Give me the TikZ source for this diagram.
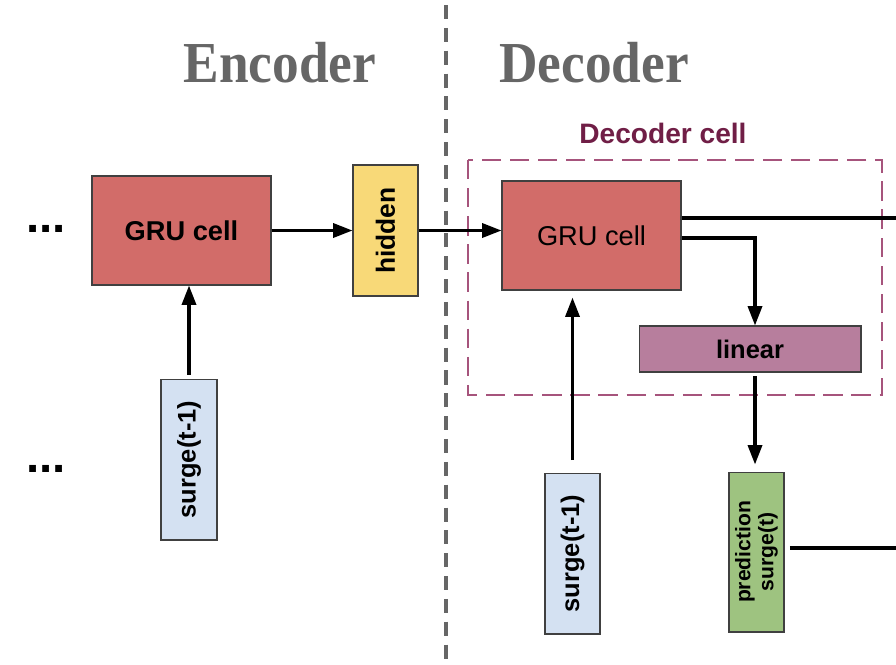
\documentclass[tikz,border=0pt]{standalone}
\usepackage{fontspec}
\setmainfont{Liberation Sans}
\newfontfamily\titlefont[FakeStretch=0.92]{Liberation Serif}
\usetikzlibrary{arrows.meta}

\definecolor{grured}{RGB}{210,108,105}
\definecolor{hiddenyellow}{RGB}{248,217,120}
\definecolor{surgeblue}{RGB}{212,225,242}
\definecolor{linearpurple}{RGB}{183,126,157}
\definecolor{predgreen}{RGB}{158,195,128}
\definecolor{cellmagenta}{RGB}{166,84,124}
\definecolor{celllabel}{RGB}{112,30,70}
\definecolor{titlegray}{RGB}{102,102,102}

\begin{document}
\begin{tikzpicture}[x=0.02cm,y=-0.02cm,
box/.style={draw=black!75,line width=0.6pt,inner sep=0pt,
  font=\bfseries\fontsize{14.5}{16}\selectfont},
vbox/.style={box,rotate=90,minimum width=3.22cm,minimum height=1.12cm},
link/.style={line width=1.8pt,-{Triangle[length=11pt,width=8pt]}},
plain/.style={line width=1.8pt},
title/.style={anchor=base,text=titlegray,font=\titlefont\bfseries\fontsize{33}{35}\selectfont},
dots/.style={anchor=base,font=\bfseries\fontsize{27}{27}\selectfont},
decobox/.style={draw=cellmagenta,line width=1.5pt,dash pattern=on 11pt off 5pt}]

\useasboundingbox (0,0) rectangle (896,664);

\node[title] (enctitle) at (280,82) {Encoder};
\node[title] (dectitle) at (594,82) {Decoder};
\coordinate (divtop) at (446,5);
\coordinate (divbot) at (446,660);
\draw[titlegray,line width=2pt,dash pattern=on 8pt off 5pt] (divtop) -- (divbot);

\node[dots] (dotsA) at (46,232) {...};
\node[dots] (dotsB) at (46,472) {...};

\node[box,fill=grured,minimum width=3.58cm,minimum height=2.18cm,
  font=\bfseries\fontsize{15.5}{17}\selectfont] (egru) at (181.5,230.5) {GRU cell};
\node[vbox,fill=hiddenyellow,minimum width=2.62cm,minimum height=1.3cm,
  font=\bfseries\fontsize{15}{17}\selectfont] (hidden) at (385.5,230.5) {hidden};
\node[vbox,fill=surgeblue] (esurge) at (189,459.5) {surge(t-1)};

\draw[decobox] (468,160) rectangle (882,395);
\node[text=celllabel,font=\bfseries\fontsize{16}{18}\selectfont] (declabel) at (663,133) {Decoder cell};

\node[box,fill=grured,minimum width=3.58cm,minimum height=2.18cm,
  font=\fontsize{15.5}{17}\selectfont] (dgru) at (591.5,235.5) {GRU cell};
\node[box,fill=linearpurple,minimum width=4.44cm,minimum height=0.92cm] (linear) at (750,349) {linear};
\node[vbox,fill=surgeblue,minimum height=1.1cm] (dsurge) at (572.5,553.5) {surge(t-1)};
\node[vbox,fill=predgreen,minimum width=3.2cm,minimum height=1.1cm,align=center,
  font=\bfseries\fontsize{12}{13}\selectfont] (pred) at (756.5,552) {prediction\\surge(t)};

\draw[link] (egru) -- (hidden);
\draw[link,shorten <=2pt] (esurge.east) -- (esurge.east |- egru.south);
\draw[link] (hidden.south) -- (hidden.south -| dgru.west);

\coordinate (outA) at (896,218);
\draw[plain] (outA -| dgru.east) -- (outA);
\coordinate (bend) at (755,238);
\draw[link] (bend -| dgru.east) -- (bend) -- (bend |- linear.north);
\draw[link,shorten <=2pt,shorten >=4pt] (bend |- linear.south) -- (bend |- pred.east);
\draw[link,shorten <=7pt,shorten >=4pt] (dsurge.east) -- (dsurge.east |- dgru.south);
\coordinate (outB) at (896,548);
\draw[plain,shorten <=3pt] (outB -| pred.south) -- (outB);

\end{tikzpicture}
\end{document}
